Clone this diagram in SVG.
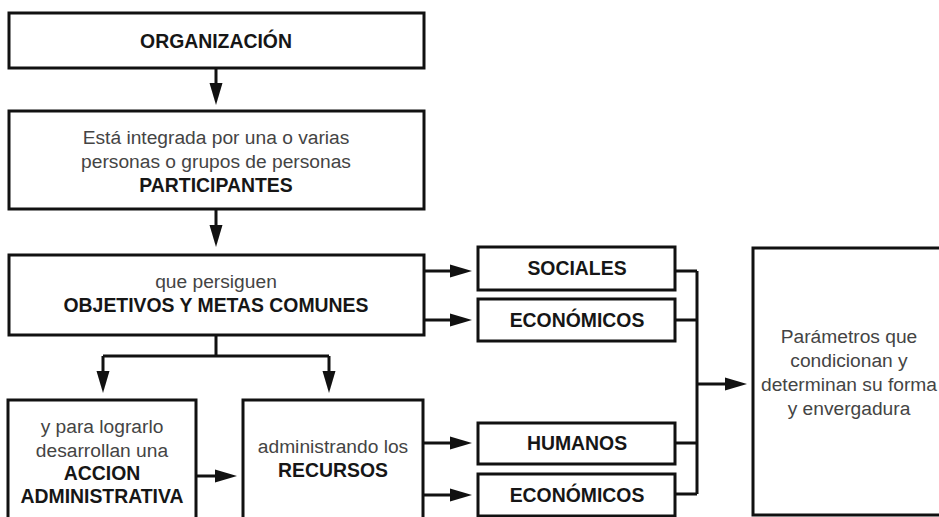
<svg xmlns="http://www.w3.org/2000/svg" width="939" height="517" viewBox="0 0 939 517">
<style>
.box{fill:#fff;stroke:#111;stroke-width:3}
.ln{fill:none;stroke:#111;stroke-width:3}
.arr{fill:none;stroke:#111;stroke-width:3;marker-end:url(#ah)}
text{font-family:"Liberation Sans",Arial,sans-serif;text-anchor:middle}
.b{font-weight:bold;font-size:19.4px;fill:#161616}
.l{font-size:19.2px;fill:#444}
</style>
<defs>
<marker id="ah" markerUnits="userSpaceOnUse" markerWidth="24" markerHeight="14" refX="12" refY="6.5" orient="auto" overflow="visible">
<path d="M0,0 L22,6.5 L0,13 z" fill="#111"/>
</marker>
</defs>
<rect width="939" height="517" fill="#fff"/>
<g id="connectors">
<path class="arr" d="M216,68 V95"/>
<path class="arr" d="M216,209 V237"/>
<path class="ln" d="M216,335 V356 M103,356 H329"/>
<path class="arr" d="M103,356 V383"/>
<path class="arr" d="M329,356 V383"/>
<path class="arr" d="M196,476 H227"/>
<path class="arr" d="M423,271 H462"/>
<path class="arr" d="M423,320 H462"/>
<path class="arr" d="M423,443 H462"/>
<path class="arr" d="M423,495 H462"/>
<path class="ln" d="M675,271 H697 M675,320 H697 M675,443 H697 M675,494 H697 M697,271 V494"/>
<path class="arr" d="M697,384 H737"/>
</g>
<g id="organizacion">
<rect class="box" x="9" y="13" width="415" height="55"/>
<text class="b" x="216" y="48">ORGANIZACIÓN</text>
</g>
<g id="participantes">
<rect class="box" x="9" y="111" width="415" height="98"/>
<text class="l" x="216" y="144">Está integrada por una o varias</text>
<text class="l" x="216" y="168">personas o grupos de personas</text>
<text class="b" x="216" y="192">PARTICIPANTES</text>
</g>
<g id="objetivos">
<rect class="box" x="9" y="255" width="415" height="80"/>
<text class="l" x="216" y="288">que persiguen</text>
<text class="b" x="216" y="312">OBJETIVOS Y METAS COMUNES</text>
</g>
<g id="accion">
<rect class="box" x="8" y="400" width="188" height="130"/>
<text class="l" x="102" y="433">y para lograrlo</text>
<text class="l" x="102" y="457">desarrollan una</text>
<text class="b" x="102" y="480">ACCION</text>
<text class="b" x="102" y="503">ADMINISTRATIVA</text>
</g>
<g id="recursos">
<rect class="box" x="243" y="400" width="180" height="130"/>
<text class="l" x="333" y="453">administrando los</text>
<text class="b" x="333" y="477">RECURSOS</text>
</g>
<g id="sociales">
<rect class="box" x="478" y="247" width="197" height="43"/>
<text class="b" x="577" y="275">SOCIALES</text>
</g>
<g id="economicos1">
<rect class="box" x="478" y="299" width="197" height="42"/>
<text class="b" x="577" y="327">ECONÓMICOS</text>
</g>
<g id="humanos">
<rect class="box" x="478" y="423" width="197" height="41"/>
<text class="b" x="577" y="450">HUMANOS</text>
</g>
<g id="economicos2">
<rect class="box" x="478" y="474" width="197" height="42"/>
<text class="b" x="577" y="502">ECONÓMICOS</text>
</g>
<g id="parametros">
<rect class="box" x="753" y="248" width="200" height="267"/>
<text class="l" x="849" y="343">Parámetros que</text>
<text class="l" x="849" y="367">condicionan y</text>
<text class="l" x="849" y="391">determinan su forma</text>
<text class="l" x="849" y="415">y envergadura</text>
</g>
</svg>
